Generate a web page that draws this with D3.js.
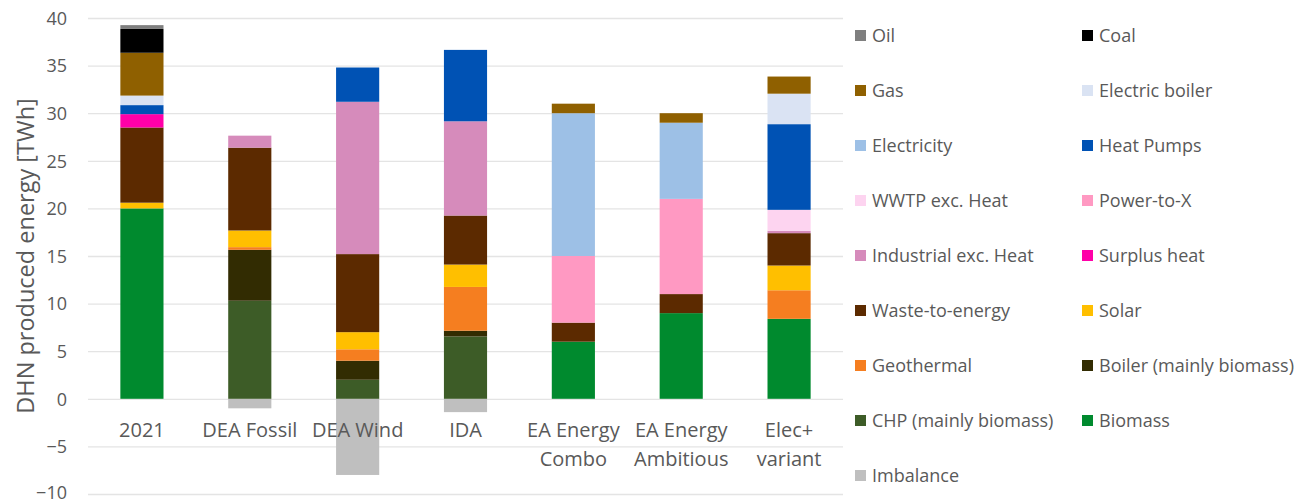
<!DOCTYPE html>
<html>
<head>
<meta charset="utf-8">
<script src="https://cdn.jsdelivr.net/npm/d3@7"></script>
<style>
  body { margin: 0; background: #fff; }
  svg { display: block; font-family: "Open Sans", sans-serif; }
  .grid line { stroke: #e4e4e4; stroke-width: 1.3; }
  .grid path { display: none; }
  .tick text { fill: #595959; }
</style>
</head>
<body>
<svg id="chart" width="1303" height="504"></svg>
<script>
// scenarios on the x axis
const categories = ["2021", "DEA Fossil", "DEA Wind", "IDA", "EA Energy\nCombo", "EA Energy\nAmbitious", "Elec+\nvariant"];

// series, bottom of the stack first (TWh per scenario)
const biomass      = [20.0, 0,     0,    0,    6.0,  9.0,  8.4];
const chp          = [0,    10.3,  2.0,  6.55, 0,    0,    0];
const boiler       = [0,    5.35,  2.0,  0.6,  0,    0,    0];
const geothermal   = [0,    0.28,  1.2,  4.6,  0,    0,    3.0];
const solar        = [0.6,  1.75,  1.8,  2.35, 0,    0,    2.6];
const waste        = [7.9,  8.7,   8.2,  5.15, 2.0,  2.0,  3.4];
const surplus      = [1.4,  0,     0,    0,    0,    0,    0];
const industrial   = [0,    1.26,  16.0, 9.9,  0,    0,    0.25];
const powerToX     = [0,    0,     0,    0,    7.0,  10.0, 0];
const wwtp         = [0,    0,     0,    0,    0,    0,    2.2];
const heatPumps    = [0.95, 0,     3.6,  7.5,  0,    0,    9.0];
const electricity  = [0,    0,     0,    0,    15.0, 8.0,  0];
const elecBoiler   = [1.0,  0,     0,    0,    0,    0,    3.2];
const gas          = [4.5,  0,     0,    0,    1.0,  1.0,  1.8];
const coal         = [2.5,  0,     0,    0,    0,    0,    0];
const oil          = [0.4,  0,     0,    0,    0,    0,    0];
const imbalance    = [0,   -1.0,  -8.0, -1.4,  0,    0,    0];

const seriesNames = ["Imbalance", "Biomass", "CHP (mainly biomass)", "Boiler (mainly biomass)", "Geothermal",
  "Solar", "Waste-to-energy", "Surplus heat", "Industrial exc. Heat", "Power-to-X", "WWTP exc. Heat",
  "Heat Pumps", "Electricity", "Electric boiler", "Gas", "Coal", "Oil"];
const seriesValues = [imbalance, biomass, chp, boiler, geothermal, solar, waste, surplus, industrial,
  powerToX, wwtp, heatPumps, electricity, elecBoiler, gas, coal, oil];
const seriesColors = ["#bfbfbf", "#008a2e", "#3d5c27", "#322c02", "#f57e20", "#ffbf00", "#5c2a00",
  "#ff00a8", "#d68bbb", "#ff99c2", "#fdd4f0", "#0052b4", "#9dc0e6", "#dae3f3", "#8f6000", "#000000", "#7f7f7f"];

const yTicks = [-10, -5, 0, 5, 10, 15, 20, 25, 30, 35, 40];

const svg = d3.select("#chart");
const plotLeft = 88, plotRight = 843;

const x = d3.scaleBand().domain(categories).range([plotLeft, plotRight]).paddingInner(0.6).paddingOuter(0.3);
const y = d3.scaleLinear().domain([-10, 40]).range([494, 18]);

// table for d3.stack
const table = categories.map((c, i) => {
  const row = { cat: c };
  seriesNames.forEach((s, k) => row[s] = seriesValues[k][i]);
  return row;
});
const stacked = d3.stack().keys(seriesNames).offset(d3.stackOffsetDiverging)(table);
const color = d3.scaleOrdinal().domain(seriesNames).range(seriesColors);

// gridlines
svg.append("g").attr("class", "grid")
  .attr("transform", `translate(${plotLeft},0)`)
  .call(d3.axisLeft(y).tickValues(yTicks).tickSize(-(plotRight - plotLeft)).tickFormat(""));

// bars
svg.append("g").selectAll("g")
  .data(stacked).join("g")
  .attr("fill", d => color(d.key))
  .selectAll("rect")
  .data(d => d).join("rect")
  .attr("x", d => x(d.data.cat))
  .attr("width", x.bandwidth())
  .attr("y", d => y(Math.max(d[0], d[1])))
  .attr("height", d => Math.abs(y(d[0]) - y(d[1])));

// y tick labels
const yAxis = svg.append("g")
  .attr("transform", `translate(${plotLeft - 21},0)`)
  .call(d3.axisLeft(y).tickValues(yTicks).tickSize(0).tickPadding(0));
yAxis.select(".domain").remove();
yAxis.selectAll("text").attr("font-size", 18).attr("font-family", "Open Sans")
  .attr("dy", d => d === -10 ? "0.25em" : "0.35em");

// x labels (drawn over the bars, at the zero line)
const xl = svg.append("g").selectAll("text")
  .data(categories).join("text")
  .attr("x", d => x(d) + x.bandwidth() / 2)
  .attr("y", y(0) + 38)
  .attr("text-anchor", "middle")
  .attr("font-size", 20)
  .attr("fill", "#595959");
xl.each(function(d) {
  const lines = d.split("\n");
  d3.select(this).selectAll("tspan").data(lines).join("tspan")
    .attr("x", x(d) + x.bandwidth() / 2)
    .attr("dy", (l, i) => i === 0 ? 0 : 29)
    .text(l => l);
});

// y title
svg.append("text")
  .attr("transform", `translate(34,${(y(40) + y(-10)) / 2}) rotate(-90)`)
  .attr("text-anchor", "middle")
  .attr("font-size", 23.5)
  .attr("fill", "#595959")
  .text("DHN produced energy [TWh]");

// legend, reversed series order, two columns
const legendOrder = seriesNames.slice(1).reverse().concat(["Imbalance"]);
const legend = svg.append("g").selectAll("g")
  .data(legendOrder).join("g")
  .attr("transform", (d, i) => `translate(${i % 2 === 0 ? 855 : 1082},${36 + Math.floor(i / 2) * 55})`);
legend.append("rect")
  .attr("x", 0).attr("y", -6).attr("width", 11).attr("height", 11)
  .attr("fill", d => color(d));
legend.append("text")
  .attr("x", 17).attr("dy", "0.35em")
  .attr("font-size", 18).attr("fill", "#595959")
  .text(d => d);
</script>
</body>
</html>
